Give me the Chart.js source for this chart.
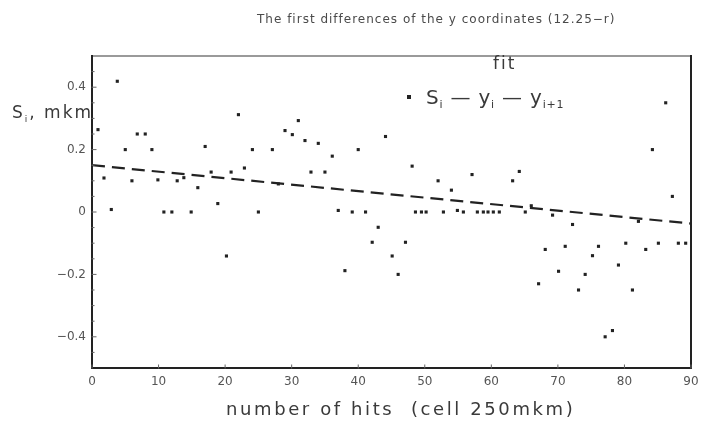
<!DOCTYPE html>
<html>
<head>
<meta charset="utf-8">
<script src="https://cdn.jsdelivr.net/npm/chart.js@4.4.3/dist/chart.umd.min.js"></script>
<style>
  html, body { margin: 0; padding: 0; background: #fff; }
  #wrap { width: 701px; height: 421px; }
</style>
</head>
<body>
<div id="wrap"><canvas id="diffs-chart" width="701" height="421"></canvas></div>
<script>
// number of hits (x) and first difference S_i (y)
const hitsX = [
  0.9, 1.8, 2.9, 3.8, 5.0, 6.0, 6.8, 8.0, 9.0, 9.9,
  10.8, 12.0, 12.8, 13.8, 14.9, 15.9, 17.0, 17.9, 18.9, 20.2,
  20.9, 22.0, 22.9, 24.1, 25.0, 27.1, 28.0, 29.0, 30.1, 31.0,
  32.0, 32.9, 34.0, 35.0, 36.1, 37.0, 38.0, 39.1, 40.0, 41.1,
  42.1, 43.0, 44.1, 45.1, 46.0, 47.1, 48.1, 48.6, 49.5, 50.2,
  52.0, 52.8, 54.0, 54.9, 55.8, 57.1, 57.9, 58.8, 59.5, 60.3,
  61.2, 63.2, 64.2, 65.1, 66.0, 67.1, 68.1, 69.2, 70.1, 71.1,
  72.2, 73.1, 74.1, 75.2, 76.1, 77.1, 78.2, 79.1, 80.2, 81.2,
  82.1, 83.2, 84.2, 85.1, 86.2, 87.2, 88.1, 89.2
];
const diffY = [
  0.264, 0.109, 0.008, 0.419, 0.20, 0.10, 0.25, 0.25, 0.20, 0.103,
  0.0, 0.0, 0.10, 0.11, 0.0, 0.078, 0.21, 0.128, 0.027, -0.141,
  0.128, 0.312, 0.141, 0.20, 0.0, 0.20, 0.09, 0.261, 0.248, 0.293,
  0.229, 0.128, 0.22, 0.128, 0.179, 0.005, -0.188, 0.0, 0.20, 0.0,
  -0.097, -0.049, 0.242, -0.141, -0.20, -0.097, 0.147, 0.0, 0.0, 0.0,
  0.10, 0.0, 0.07, 0.005, 0.0, 0.12, 0.0, 0.0, 0.0, 0.0,
  0.0, 0.10, 0.13, 0.0, 0.02, -0.23, -0.12, -0.01, -0.19, -0.11,
  -0.04, -0.25, -0.20, -0.14, -0.11, -0.40, -0.38, -0.17, -0.10, -0.25,
  -0.03, -0.12, 0.20, -0.10, 0.35, 0.05, -0.10, -0.10
];

// straight-line fit
const fitX = [0, 90];
const fitY = [0.15, -0.037];

const xTicks = [0, 10, 20, 30, 40, 50, 60, 70, 80, 90];
const yTicks = [-0.4, -0.2, 0, 0.2, 0.4];

const titleText = "The first differences of the y coordinates (12.25\u2212r)";
const xTitleText = "number of hits  (cell 250mkm)";

const INK = "#222";
const TEXT = "#3a3a3a";

function fmtY(v) {
  if (v === 0) return "0";
  const s = Math.abs(v).toFixed(1);
  return v < 0 ? "\u2212" + s : s;
}

// draws a run of text pieces, some as subscripts
function drawRich(ctx, x, y, parts, size, spacing) {
  let cx = x;
  ctx.letterSpacing = spacing + "px";
  for (const p of parts) {
    const fs = p.sub ? Math.round(size * 0.55) : size;
    ctx.font = `${fs}px "DejaVu Sans"`;
    ctx.fillText(p.t, cx, p.sub ? y + size * 0.22 : y);
    cx += ctx.measureText(p.t).width;
  }
  ctx.letterSpacing = "0px";
  return cx;
}

const framePlugin = {
  id: "frameAndLabels",
  afterDraw(chart) {
    const { ctx, chartArea: a, scales } = chart;
    ctx.save();

    // plot frame
    ctx.lineCap = "square";
    ctx.strokeStyle = "#9a9a9a";
    ctx.lineWidth = 2;
    ctx.beginPath();
    ctx.moveTo(a.left, a.top);
    ctx.lineTo(a.right, a.top);
    ctx.stroke();
    ctx.strokeStyle = INK;
    ctx.beginPath();
    ctx.moveTo(a.right, a.top);
    ctx.lineTo(a.right, a.bottom);
    ctx.lineTo(a.left, a.bottom);
    ctx.lineTo(a.left, a.top);
    ctx.stroke();

    // inward tick marks
    ctx.lineWidth = 1;
    ctx.strokeStyle = "#666";
    ctx.beginPath();
    for (const v of xTicks) {
      const px = scales.x.getPixelForValue(v);
      ctx.moveTo(px, a.bottom);
      ctx.lineTo(px, a.bottom - 3);
    }
    for (let k = -9; k <= 9; k++) {
      const py = scales.y.getPixelForValue(k * 0.05);
      const major = k % 4 === 0;
      ctx.moveTo(a.left, py);
      ctx.lineTo(a.left + (major ? 4 : 2), py);
    }
    ctx.stroke();

    ctx.fillStyle = TEXT;
    ctx.textBaseline = "middle";

    // title
    ctx.textAlign = "left";
    ctx.font = '12px "DejaVu Sans"';
    ctx.letterSpacing = "1px";
    ctx.fillStyle = "#4a4a4a";
    ctx.fillText(titleText, 257, 20);

    // x axis title
    ctx.fillStyle = TEXT;
    ctx.font = '18px "DejaVu Sans"';
    ctx.letterSpacing = "2.6px";
    ctx.fillText(xTitleText, 226, 410);
    ctx.letterSpacing = "0px";

    // y axis label
    ctx.textBaseline = "alphabetic";
    drawRich(ctx, 12, 118, [{ t: "S" }, { t: "i", sub: true }, { t: ", mkm" }], 17, 2);

    // legend
    ctx.font = '17px "DejaVu Sans"';
    ctx.letterSpacing = "2px";
    ctx.fillText("fit", 493, 69);
    ctx.letterSpacing = "0px";
    ctx.fillStyle = INK;
    ctx.fillRect(407, 95, 4, 4);
    ctx.fillStyle = TEXT;
    drawRich(ctx, 426, 104, [
      { t: "S" }, { t: "i", sub: true }, { t: " \u2014 y" }, { t: "i", sub: true },
      { t: " \u2014 y" }, { t: "i+1", sub: true }
    ], 20, 0.8);

    ctx.restore();
  }
};

new Chart(document.getElementById("diffs-chart"), {
  type: "scatter",
  data: {
    datasets: [
      {
        label: "fit",
        type: "line",
        data: fitX.map((x, i) => ({ x, y: fitY[i] })),
        borderColor: INK,
        borderWidth: 2.2,
        borderDash: [13, 7],
        pointRadius: 0,
        fill: false,
      },
      {
        label: "S_i = y_i - y_i+1",
        data: hitsX.map((x, i) => ({ x, y: diffY[i] })),
        pointStyle: "rect",
        pointRadius: 2.2,
        backgroundColor: INK,
        borderColor: INK,
        borderWidth: 0,
      },
    ],
  },
  options: {
    responsive: false,
    animation: false,
    layout: { padding: { top: 56, right: 10, left: 0, bottom: 0 } },
    plugins: {
      legend: { display: false },
      tooltip: { enabled: false },
    },
    scales: {
      x: {
        type: "linear",
        min: 0,
        max: 90,
        afterBuildTicks(scale) {
          scale.ticks = xTicks.map((value) => ({ value }));
        },
        afterFit(scale) {
          scale.height = 53;
          scale.paddingLeft = 0;
          scale.paddingRight = 0;
        },
        grid: { display: false, drawTicks: false },
        border: { display: false },
        ticks: {
          padding: 7,
          color: "#555",
          font: { family: "DejaVu Sans", size: 12 },
          maxRotation: 0,
          autoSkip: false,
        },
      },
      y: {
        min: -0.5,
        max: 0.5,
        afterBuildTicks(scale) {
          scale.ticks = yTicks.map((value) => ({ value }));
        },
        afterFit(scale) {
          scale.width = 92;
          scale.paddingTop = 0;
          scale.paddingBottom = 0;
        },
        grid: { display: false, drawTicks: false },
        border: { display: false },
        ticks: {
          padding: 6,
          color: "#555",
          font: { family: "DejaVu Sans", size: 12 },
          callback(value) {
            return fmtY(value);
          },
        },
      },
    },
  },
  plugins: [framePlugin],
});
</script>
</body>
</html>
